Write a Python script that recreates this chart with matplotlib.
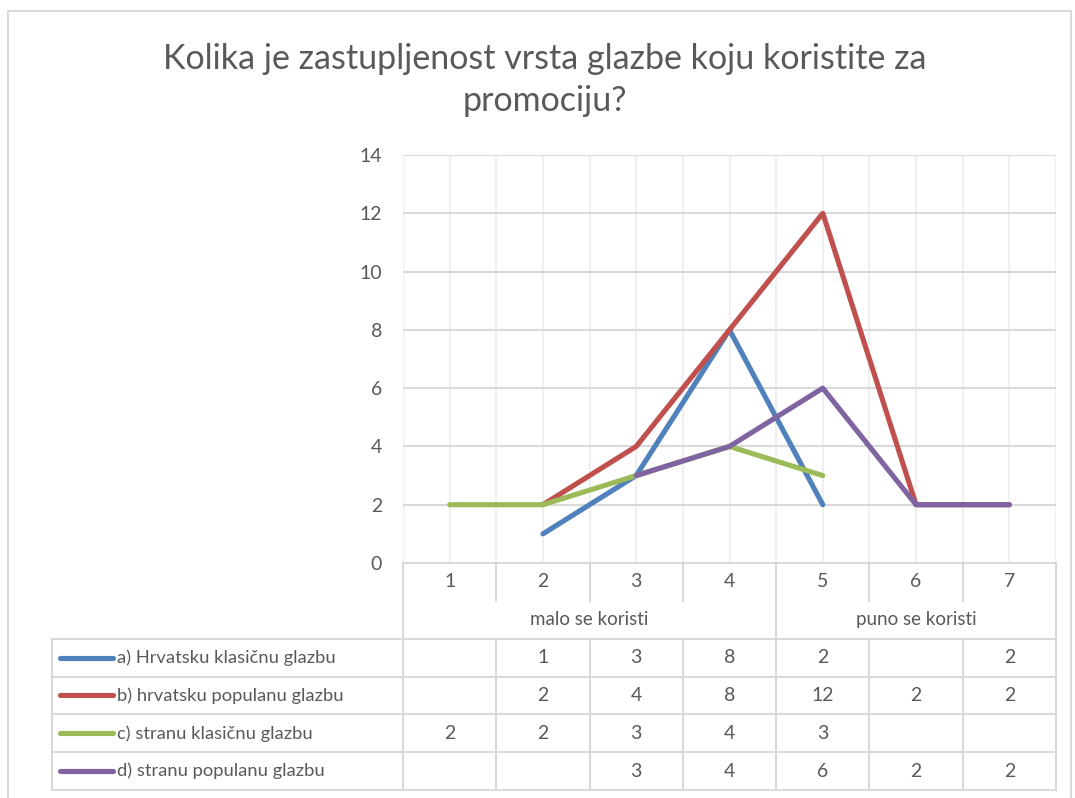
import numpy as np
import matplotlib
matplotlib.use('Agg')
import matplotlib.pyplot as plt
from matplotlib.patches import Rectangle

plt.rcParams['font.family'] = ['Lato', 'DejaVu Sans']

# data
categories = [1, 2, 3, 4, 5, 6, 7]
groups = ['malo se koristi', 'puno se koristi']
group_spans = [(1, 4), (5, 7)]
series_names = ['a) Hrvatsku klasičnu glazbu', 'b) hrvatsku populanu glazbu',
                'c) stranu klasičnu glazbu', 'd) stranu populanu glazbu']
a_vals = [None, 1, 3, 8, 2, None, 2]
b_vals = [None, 2, 4, 8, 12, 2, 2]
c_vals = [2, 2, 3, 4, 3, None, None]
d_vals = [None, None, 3, 4, 6, 2, 2]
colors = ['#4f81bd', '#c0504d', '#9bbb59', '#8064a2']

txt = '#595959'
grid = '#d9d9d9'
W, H = 1075, 798
fig = plt.figure(figsize=(W / 100, H / 100), dpi=100)

# chart border
fig.patches.append(Rectangle((8 / W, -0.01), 1063 / W, (H - 11) / H + 0.01,
                             transform=fig.transFigure, fill=False,
                             edgecolor=grid, lw=1.5))

fig.text(545 / W, 1 - 80 / H, 'Kolika je zastupljenost vrsta glazbe koju koristite za\npromociju?',
         ha='center', va='center', fontsize=24.5, color=txt, linespacing=1.4)

# main plot
x0, x1, ytop, ybot = 403, 1056, 155, 563
ax = fig.add_axes([x0 / W, 1 - ybot / H, (x1 - x0) / W, (ybot - ytop) / H])
all_vals = [a_vals, b_vals, c_vals, d_vals]
for vals, col in zip(all_vals, colors):
    y = np.array([np.nan if v is None else v for v in vals], dtype=float)
    ax.plot(categories, y, color=col, lw=3.7, solid_capstyle='round',
            solid_joinstyle='round', zorder=3)
ax.set_xlim(0.5, 7.5)
ax.set_ylim(0, 14)
ax.set_yticks(range(0, 15, 2))
ax.set_xticks(np.arange(0.5, 7.51, 0.5))
ax.tick_params(axis='x', length=0, labelbottom=False)
ax.tick_params(axis='y', length=0, colors=txt, labelsize=14, pad=15)
ax.grid(axis='y', color=grid, lw=1.5)
ax.grid(axis='x', color='#efefef', lw=1.5)
for s in ax.spines.values():
    s.set_visible(False)

# data table
tax = fig.add_axes([x0 / W, 1 - 790 / H, (x1 - x0) / W, 227 / H])
tax.set_xlim(0.5, 7.5)
tax.set_ylim(6, 0)
tax.axis('off')
lc = dict(color=grid, lw=1.5, clip_on=False)
left = 0.5 - (x0 - 52) / ((x1 - x0) / 7)
tax.plot([0.5, 7.5], [0, 0], **lc)
for r in range(2, 7):
    tax.plot([left, 7.5], [r, r], **lc)
tax.plot([0.5, 0.5], [0, 6], **lc)
tax.plot([7.5, 7.5], [0, 6], **lc)
tax.plot([left, left], [2, 6], **lc)
for c in categories[:-1]:
    if c == 4:
        tax.plot([c + 0.5, c + 0.5], [0, 6], **lc)
    else:
        tax.plot([c + 0.5, c + 0.5], [0, 1], **lc)
        tax.plot([c + 0.5, c + 0.5], [2, 6], **lc)
for c in categories:
    tax.text(c, 0.5, str(c), ha='center', va='center', color=txt, fontsize=14)
for g, (s, e) in zip(groups, group_spans):
    tax.text((s + e) / 2, 1.5, g, ha='center', va='center', color=txt, fontsize=13.5)
for i, (name, vals, col) in enumerate(zip(series_names, all_vals, colors)):
    r = 2.5 + i
    tax.plot([left + 0.09, left + 0.65], [r, r], color=col, lw=3.7,
             solid_capstyle='round', clip_on=False)
    tax.text(left + 0.70, r, name, ha='left', va='center', color=txt, fontsize=13.2)
    for c, v in zip(categories, vals):
        if v is not None:
            tax.text(c, r, str(v), ha='center', va='center', color=txt, fontsize=14)

fig.savefig('out.png', dpi=100)
